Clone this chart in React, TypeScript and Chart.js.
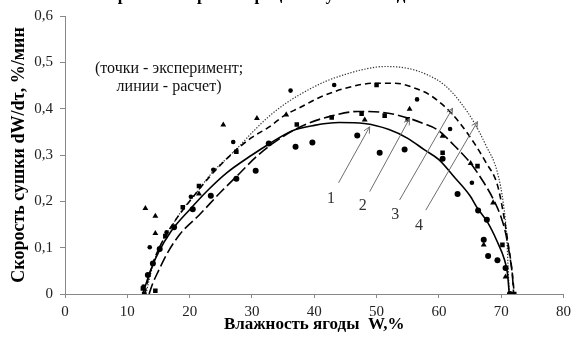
import { useEffect, useRef } from 'react';
import { Chart, registerables } from 'chart.js';

Chart.register(...registerables);

// ---- computed curves (W, dW/dτ) ----
const curve1: number[][] = [[12.5,0],[13.2,0.03],[14,0.06],[15,0.09],[17,0.135],[20,0.182],[23,0.225],[26,0.262],[30,0.3],[33,0.326],[36.4,0.352],[40,0.364],[44,0.37],[48,0.368],[52,0.355],[55,0.336],[57.7,0.311],[60,0.29],[62.5,0.252],[65,0.212],[66.2,0.185],[67.8,0.155],[69.3,0.115],[70.5,0.075],[71,0.045],[71.3,0]];
const curve2: number[][] = [[13.5,0],[14,0.02],[15,0.05],[16.5,0.09],[18.5,0.13],[21.5,0.17],[25,0.22],[28,0.26],[31,0.3],[35,0.34],[39,0.368],[43,0.385],[47,0.394],[51,0.392],[55,0.38],[57.5,0.368],[59.8,0.354],[62.5,0.32],[65.1,0.282],[67,0.245],[68.8,0.203],[70,0.165],[70.7,0.132],[71.4,0.08],[71.8,0.04],[72,0]];
const curve3: number[][] = [[12.8,0],[13.3,0.03],[14.2,0.07],[15.5,0.11],[17.5,0.155],[20,0.2],[23,0.25],[26.9,0.304],[30,0.338],[32.7,0.36],[35.4,0.387],[37.5,0.401],[41,0.425],[45,0.444],[49.7,0.455],[53,0.455],[56,0.445],[58.5,0.43],[60.9,0.405],[63,0.375],[65.7,0.325],[67.5,0.285],[69.4,0.235],[70.4,0.17],[71.1,0.11],[71.7,0.055],[72.1,0]];
const curve4: number[][] = [[13,0],[13.5,0.03],[14.3,0.07],[15.5,0.11],[17.3,0.15],[19,0.185],[21,0.217],[23.6,0.262],[26,0.293],[27.9,0.318],[30,0.348],[32.7,0.383],[35.5,0.412],[39.1,0.441],[42,0.46],[45,0.474],[48,0.485],[51.3,0.491],[55,0.487],[58,0.474],[61,0.45],[63.5,0.413],[65.7,0.369],[67.5,0.322],[69.4,0.262],[70.4,0.19],[70.9,0.12],[71.1,0.06],[71.3,0]];

// ---- experimental points ----
const circles: number[][] = [[13.3,0.041],[14.1,0.066],[15.2,0.097],[17.5,0.144],[20.5,0.183],[23.4,0.212],[27.5,0.249],[30.6,0.266],[32.7,0.325],[37.0,0.318],[39.7,0.327],[46.9,0.342],[50.5,0.305],[54.5,0.312],[60.6,0.292],[63.0,0.216],[66.3,0.18],[67.7,0.16],[67.2,0.117],[67.9,0.082],[69.4,0.073],[70.7,0.056],[71.4,0]];
const squares: number[][] = [[12.5,0.012],[12.7,0],[14.5,0.007],[16.1,0.125],[18.9,0.187],[21.5,0.233],[27.5,0.307],[37.2,0.366],[42.8,0.381],[47.6,0.389],[51.3,0.385],[55.0,0.377],[50.0,0.451],[60.6,0.305],[66.2,0.276],[70.2,0.106],[72.1,0]];
const triangles: number[][] = [[12.9,0.185],[14.5,0.168],[14.5,0.131],[21.5,0.216],[25.4,0.365],[30.8,0.379],[35.5,0.387],[48.1,0.376],[55.3,0.399],[60.6,0.341],[65.1,0.282],[68.7,0.197],[67.2,0.106],[70.7,0.037]];
const diamonds: number[][] = [[12.6,0.016],[13.6,0.101],[16.3,0.133],[20.2,0.21],[23.8,0.268],[27.0,0.328],[36.2,0.439],[43.2,0.451],[56.5,0.42],[61.8,0.356],[65.3,0.24]];

const curveLabels = ['1', '2', '3', '4'];
const xTitle = 'Влажность ягоды  W,%';
const yTitle = 'Скорость сушки dW/dτ, %/мин';
const noteLines = ['(точки - эксперимент;', 'линии - расчет)'];
const chartTitle = 'Кривые скорости процесса сушки ягоды';

// arrow annotations in data units: [fromX, fromY, toX, toY, labelX, labelY]
const arrows: number[][] = [
  [43.9, 0.24, 48.9, 0.361, 42.7, 0.205],
  [48.9, 0.221, 55.3, 0.379, 47.8, 0.19],
  [53.7, 0.203, 62.2, 0.401, 53.0, 0.17],
  [57.9, 0.181, 66.2, 0.372, 56.8, 0.147],
];

const toXY = (a: number[][]) => a.map(([x, y]) => ({ x, y }));

const SERIF = '"Liberation Serif", "Times New Roman", serif';

const annotPlugin = {
  id: 'annot',
  afterDatasetsDraw(chart: any) {
    const { ctx, scales } = chart;
    const xs = scales.x, ys = scales.y;
    ctx.save();
    ctx.strokeStyle = '#6e6e6e';
    ctx.lineWidth = 1;
    arrows.forEach((a, i) => {
      const x1 = xs.getPixelForValue(a[0]), y1 = ys.getPixelForValue(a[1]);
      const x2 = xs.getPixelForValue(a[2]), y2 = ys.getPixelForValue(a[3]);
      ctx.beginPath();
      ctx.moveTo(x1, y1);
      ctx.lineTo(x2, y2);
      ctx.stroke();
      const ang = Math.atan2(y2 - y1, x2 - x1);
      const h = 7;
      ctx.beginPath();
      ctx.moveTo(x2 - h * Math.cos(ang - 0.45), y2 - h * Math.sin(ang - 0.45));
      ctx.lineTo(x2, y2);
      ctx.lineTo(x2 - h * Math.cos(ang + 0.45), y2 - h * Math.sin(ang + 0.45));
      ctx.stroke();
      ctx.fillStyle = '#333';
      ctx.font = `16px ${SERIF}`;
      ctx.textAlign = 'center';
      ctx.textBaseline = 'middle';
      ctx.fillText(curveLabels[i], xs.getPixelForValue(a[4]), ys.getPixelForValue(a[5]));
    });
    ctx.fillStyle = '#111';
    ctx.font = `16px ${SERIF}`;
    ctx.textAlign = 'center';
    ctx.textBaseline = 'middle';
    ctx.fillText(noteLines[0], xs.getPixelForValue(16.7), ys.getPixelForValue(0.485));
    ctx.fillText(noteLines[1], xs.getPixelForValue(16.7), ys.getPixelForValue(0.448));
    ctx.restore();
  },
  afterDraw(chart: any) {
    const { ctx } = chart;
    ctx.save();
    ctx.fillStyle = '#000';
    ctx.font = `bold 17px ${SERIF}`;
    ctx.textAlign = 'center';
    ctx.textBaseline = 'alphabetic';
    ctx.fillText(chartTitle, 262, -0.5);
    ctx.restore();
  },
};

export default function App() {
  const ref = useRef<HTMLCanvasElement | null>(null);
  useEffect(() => {
    document.body.style.margin = '0';
    if (!ref.current) return;
    const lineDs = (data: number[][], dash: number[], width: number, color: string, label: string) => ({
      type: 'line' as const,
      label,
      data: toXY(data),
      borderColor: color,
      borderWidth: width,
      borderDash: dash,
      pointRadius: 0,
      fill: false,
      cubicInterpolationMode: 'monotone' as const,
      order: 1,
    });
    const ptDs = (data: number[][], style: string, r: number, label: string) => ({
      type: 'scatter' as const,
      label,
      data: toXY(data),
      pointStyle: style,
      pointRadius: r,
      backgroundColor: '#000',
      borderColor: '#000',
      borderWidth: 0,
      showLine: false,
      order: 0,
    });
    const chart = new Chart(ref.current, {
      type: 'scatter',
      data: {
        datasets: [
          lineDs(curve1, [], 1.6, '#000', '1'),
          lineDs(curve2, [11, 4], 1.6, '#000', '2'),
          lineDs(curve3, [6, 4], 1.6, '#000', '3'),
          lineDs(curve4, [1.3, 1.6], 1.2, '#333', '4'),
          ptDs(circles, 'circle', 3, 'circles'),
          ptDs(squares, 'rect', 3.2, 'squares'),
          ptDs(triangles, 'triangle', 3.4, 'triangles'),
          ptDs(diamonds, 'circle', 2.3, 'diamonds'),
        ] as any,
      },
      options: {
        animation: false,
        responsive: true,
        maintainAspectRatio: false,
        layout: { padding: { top: 16, right: 10, left: 0, bottom: 0 } },
        plugins: { legend: { display: false }, tooltip: { enabled: false }, title: { display: false } },
        scales: {
          x: {
            type: 'linear',
            min: 0,
            max: 80,
            ticks: { stepSize: 10, color: '#222', font: { family: SERIF, size: 15 }, padding: 5 },
            grid: { drawOnChartArea: false, drawTicks: true, tickLength: 4, color: '#888' },
            border: { display: true, color: '#888' },
            title: { display: true, text: xTitle, color: '#000', font: { family: SERIF, size: 17, weight: 'bold' }, padding: { top: 0, bottom: 3 } },
            afterFit: (s: any) => { s.height = 44; },
          },
          y: {
            type: 'linear',
            min: 0,
            max: 0.6,
            ticks: {
              stepSize: 0.1,
              color: '#222',
              font: { family: SERIF, size: 15 },
              padding: 7,
              callback: (v: any) => {
                const n = Math.round(Number(v) * 10) / 10;
                return n === 0 ? '0' : n.toFixed(1).replace('.', ',');
              },
            },
            grid: { drawOnChartArea: false, drawTicks: true, tickLength: 5, color: '#888' },
            border: { display: true, color: '#888' },
            title: { display: true, text: yTitle, color: '#000', font: { family: SERIF, size: 18, weight: 'bold' }, padding: { top: 9, bottom: 0 } },
            afterFit: (s: any) => { s.width = 65; },
          },
        },
      } as any,
      plugins: [annotPlugin],
    });
    return () => chart.destroy();
  }, []);
  return (
    <div style={{ position: 'relative', width: 576, height: 338 }}>
      <canvas ref={ref} />
    </div>
  );
}
